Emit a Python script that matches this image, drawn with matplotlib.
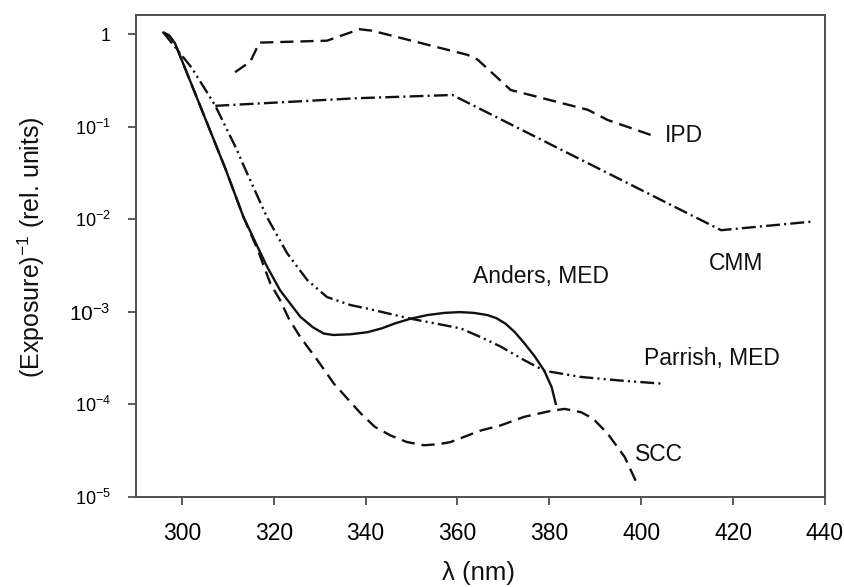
import math

import matplotlib

matplotlib.use("Agg")
import matplotlib.pyplot as plt
from matplotlib.ticker import FixedLocator, FuncFormatter, NullLocator

# values
anders_x = [296.0, 297.2, 298.5, 309.5, 313.4, 318.5, 321.4, 325.8, 328.5, 330.9, 333.0,
            336.7, 340.4, 343.5, 346.5, 349.8, 353.5, 357.1, 360.5, 363.6, 366.5, 368.5,
            370.5, 372.5, 374.5, 376.8, 378.9, 380.5, 381.4]
anders_y = [1.04, 0.97, 0.80, 0.035, 0.0106, 0.0031, 0.0017, 0.00088, 0.00068, 0.00058, 0.00056,
            0.00057, 0.0006, 0.00066, 0.00075, 0.00084, 0.00092, 0.00097, 0.00099, 0.00097,
            0.00092, 0.00085, 0.00074, 0.0006, 0.00046, 0.00033, 0.00023, 0.000153, 0.000101]

scc_x = [296.0, 297.2, 298.5, 309.5, 313.4, 316.5, 319.3, 321.4, 323.3, 325.8, 329.5, 333.1,
         338.9, 342.0, 345.4, 349.0, 352.7, 356.0, 358.5, 365.1, 369.4, 374.5, 380.0, 383.3,
         386.9, 389.5, 392.7, 396.4, 398.9]
scc_y = [1.04, 0.97, 0.80, 0.035, 0.0106, 0.0047, 0.0020, 0.00133, 0.00084, 0.00053, 0.0003,
         0.000167, 0.00008, 0.000057, 0.000046, 0.000039, 0.000036, 0.000037, 0.000039,
         0.000052, 0.000059, 0.000073, 0.000084, 0.000089, 0.000082, 0.00007, 0.000048,
         0.0000269, 0.0000145]

parrish_x = [296.0, 299.3, 302.2, 307.3, 312.0, 313.4, 318.5, 322.9, 327.3, 331.6, 336.7, 340.4,
             349.8, 360.7, 365.1, 369.4, 374.5, 378.9, 386.9, 395.6, 404.4]
parrish_y = [1.04, 0.65, 0.43, 0.168, 0.056, 0.0385, 0.0106, 0.0043, 0.0022, 0.00144, 0.00118,
             0.00108, 0.00084, 0.00066, 0.00053, 0.00042, 0.0003, 0.00023, 0.000197, 0.00018,
             0.000167]

cmm_x = [307.3, 338.2, 358.9, 417.4, 437.0]
cmm_y = [0.168, 0.203, 0.22, 0.0076, 0.0094]

ipd_x = [311.6, 314.9, 316.9, 331.6, 338.7, 341.4, 362.2, 364.4, 371.6, 388.4, 392.7, 402.2]
ipd_y = [0.388, 0.505, 0.81, 0.85, 1.13, 1.09, 0.597, 0.53, 0.249, 0.152, 0.118, 0.081]

x_ticks = [300, 320, 340, 360, 380, 400, 420, 440]
y_ticks = [1e-5, 1e-4, 1e-3, 1e-2, 1e-1, 1]

labels = [("IPD", 409.4, 0.081), ("CMM", 420.7, 0.0033), ("Anders, MED", 378.2, 0.00239),
          ("Parrish, MED", 415.4, 0.00031), ("SCC", 403.8, 2.87e-5)]

plt.rcParams["font.family"] = ["Liberation Sans", "DejaVu Sans"]
plt.rcParams["lines.scale_dashes"] = False
plt.rcParams["mathtext.fontset"] = "custom"
plt.rcParams["mathtext.rm"] = "Liberation Sans"
plt.rcParams["mathtext.it"] = "Liberation Sans:italic"

fig = plt.figure(figsize=(8.45, 5.87), dpi=100)
ax = fig.add_axes([0.1608, 0.1538, 0.8155, 0.8202])

ink = "#111111"
lw = 1.7
ax.plot(anders_x, anders_y, color=ink, lw=lw, solid_joinstyle="round")
ax.plot(scc_x, scc_y, color=ink, lw=lw, dashes=(9.5, 5))
ax.plot(ipd_x, ipd_y, color=ink, lw=lw, dashes=(9.5, 5))
ax.plot(cmm_x, cmm_y, color=ink, lw=lw, dashes=(10, 3, 1.5, 3))
ax.plot(parrish_x, parrish_y, color=ink, lw=lw, dashes=(10, 3, 1.5, 3, 1.5, 3))

for text, lx, ly in labels:
    ax.text(lx, ly, text, fontsize=16.5, ha="center", va="center", color=ink)

ax.set_xlim(290, 440)
ax.set_ylim(1e-5, 1.6)
ax.set_yscale("log")
ax.xaxis.set_major_locator(FixedLocator(x_ticks))
ax.yaxis.set_major_locator(FixedLocator(y_ticks))
ax.yaxis.set_minor_locator(NullLocator())


def decade(value, pos):
    if value == 1:
        return "1"
    return r"10$^{%d}$" % round(math.log10(value))


ax.yaxis.set_major_formatter(FuncFormatter(decade))
ax.tick_params(direction="out", length=6, width=1.2, color="#404040", top=False, right=False)
ax.tick_params(axis="x", labelsize=16.5, pad=12)
ax.tick_params(axis="y", labelsize=13, pad=12)
for side in ax.spines.values():
    side.set_color("#505050")
    side.set_linewidth(1.4)

fig.text(479 / 845, 1 - 573 / 587, "λ (nm)", fontsize=18.5, ha="center", va="center", color=ink)
fig.text(31 / 845, 1 - 247.5 / 587, r"(Exposure)$^{-1}$ (rel. units)", fontsize=18,
         rotation=90, ha="center", va="center", color=ink)

# the 10^-3 label is drawn larger in the original
fig.canvas.draw()
for tick, value in zip(ax.yaxis.get_major_ticks(), ax.get_yticks()):
    if abs(value - 1e-3) < 1e-9:
        tick.label1.set_fontsize(15)

fig.savefig("out.png", dpi=100)
